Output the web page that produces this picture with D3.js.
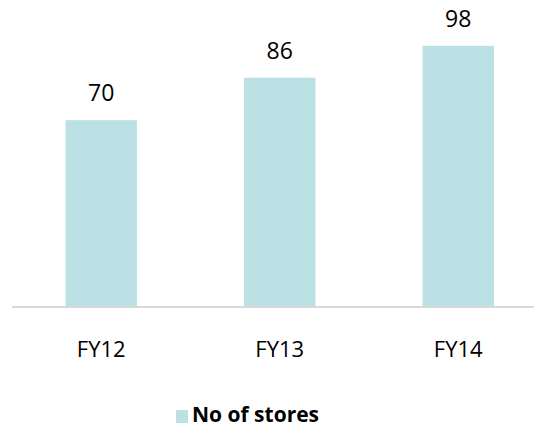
<!DOCTYPE html>
<html>
<head>
<meta charset="utf-8">
<script src="https://cdn.jsdelivr.net/npm/d3@7/dist/d3.min.js"></script>
<style>
  html, body { margin: 0; padding: 0; background: #fff; overflow: hidden; }
  svg { display: block; overflow: hidden; }
  text { font-family: "Open Sans", Lato, sans-serif; fill: #000; }
</style>
</head>
<body>
<svg id="chart" width="534" height="428"></svg>
<script>
// Store counts by fiscal year
const categories = ["FY12", "FY13", "FY14"];
const storeCounts = [70, 86, 98];
const seriesName = "No of stores";

const width = 534;
const svg = d3.select("#chart");
const barColor = "#BCE1E4";

const x = d3.scaleBand()
  .domain(categories)
  .range([12, 547.5])
  .paddingInner(0.6)
  .paddingOuter(0.3);

const y = d3.scaleLinear()
  .domain([0, 100])
  .range([306, 40.5]);

// Bars
svg.append("g").selectAll("rect")
  .data(categories)
  .join("rect")
  .attr("x", d => x(d))
  .attr("width", x.bandwidth())
  .attr("y", (d, i) => y(storeCounts[i]))
  .attr("height", (d, i) => y(0) - y(storeCounts[i]))
  .attr("fill", barColor);

// Category axis: baseline line only, labels below
const xAxis = svg.append("g")
  .attr("transform", `translate(0,${y(0)})`)
  .call(d3.axisBottom(x).tickSize(0));
xAxis.select(".domain")
  .attr("stroke", "#D9D9D9")
  .attr("stroke-width", 2)
  .attr("d", `M12,1H${width}`);
xAxis.selectAll("text")
  .attr("y", 51)
  .attr("dy", 0)
  .attr("fill", "#000")
  .style("font-family", "'Open Sans', Lato, sans-serif")
  .style("font-size", "22px");

// Value labels above bars
svg.append("g").selectAll("text")
  .data(categories)
  .join("text")
  .attr("x", d => x(d) + x.bandwidth() / 2)
  .attr("y", (d, i) => y(storeCounts[i]) - 19)
  .attr("text-anchor", "middle")
  .style("font-size", "23px")
  .text((d, i) => storeCounts[i]);

// Legend
const legend = svg.append("g").attr("transform", "translate(176,410)");
legend.append("rect")
  .attr("width", 12).attr("height", 13)
  .attr("fill", barColor);
legend.append("text")
  .attr("x", 16).attr("y", 12)
  .style("font-size", "21px")
  .style("font-weight", "bold")
  .text(seriesName);
</script>
</body>
</html>
